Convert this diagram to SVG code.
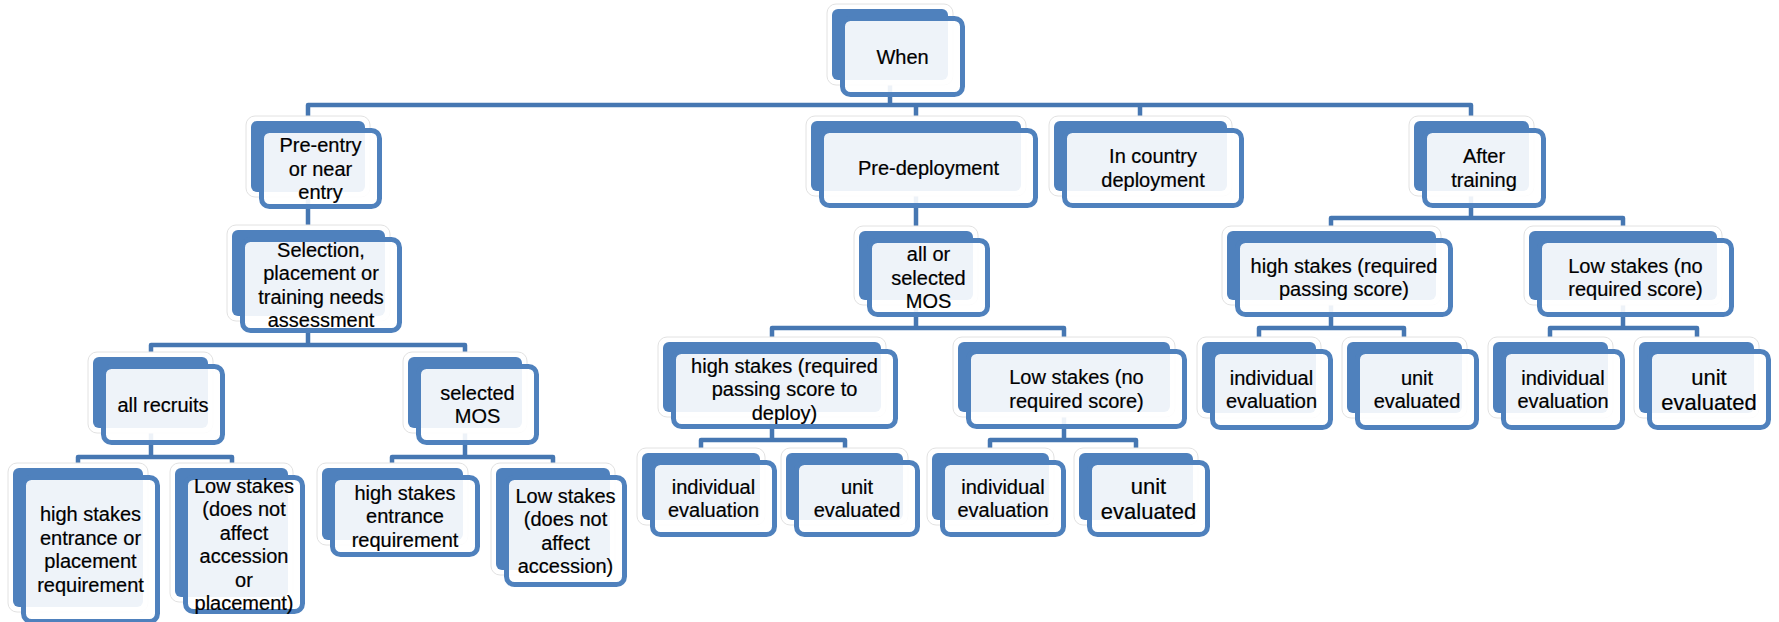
<svg xmlns="http://www.w3.org/2000/svg" width="1779" height="622" viewBox="0 0 1779 622">
<style>
.halo{fill:#ffffff;stroke:#e2e2e2;stroke-width:1}
.back{fill:#4F81BD}
.front{fill:#ffffff;fill-opacity:0.9;stroke:#4F81BD;stroke-width:5}
.conn{fill:none;stroke:#4677B2;stroke-width:4.5;stroke-linejoin:round}
.t{font-family:"Liberation Sans",Arial,sans-serif;font-size:20px;fill:#000;text-anchor:middle;stroke:#000;stroke-width:0.2}
.big{font-size:22px}
</style>
<rect width="1779" height="622" fill="#ffffff"/>
<g id="connectors" class="conn">
<path d="M890 80V105M308 121V105H1471V121M916 105V121M1140 105V121"/>
<path d="M308 192V230"/>
<path d="M916 191V231"/>
<path d="M1471 191V218M1331 231V218H1623V231"/>
<path d="M308 316V345M151 357V345H465V357"/>
<path d="M151 428V457M78 468V457H232V468"/>
<path d="M465 428V457M392 468V457H553V468"/>
<path d="M916 300V328M772 342V328H1064V342"/>
<path d="M772 412V440M701 453V440H845V453"/>
<path d="M1064 412V440M990 453V440H1136V453"/>
<path d="M1331 300V328M1259 342V328H1404V342"/>
<path d="M1623 300V328M1550 342V328H1697V342"/>
</g>
<g id="n-when"><rect class="halo" x="827" y="4" width="126" height="81" rx="9"/><rect class="back" x="832" y="9" width="116" height="71" rx="6"/><rect class="front" x="842.5" y="18.5" width="120" height="76" rx="8"/><text class="t" x="902.5" y="63.5">When</text></g>
<g id="n-preentry"><rect class="halo" x="246" y="116" width="124" height="81" rx="9"/><rect class="back" x="251" y="121" width="114" height="71" rx="6"/><rect class="front" x="261.5" y="130.5" width="118" height="76" rx="8"/><text class="t" y="152"><tspan x="320.5">Pre-entry</tspan><tspan x="320.5" dy="23.5">or near</tspan><tspan x="320.5" dy="23.5">entry</tspan></text></g>
<g id="n-predeploy"><rect class="halo" x="806" y="116" width="220" height="80" rx="9"/><rect class="back" x="811" y="121" width="210" height="70" rx="6"/><rect class="front" x="821.5" y="130.5" width="214" height="75" rx="8"/><text class="t" x="928.5" y="175">Pre-deployment</text></g>
<g id="n-incountry"><rect class="halo" x="1049" y="116" width="183" height="80" rx="9"/><rect class="back" x="1054" y="121" width="173" height="70" rx="6"/><rect class="front" x="1064.5" y="130.5" width="177" height="75" rx="8"/><text class="t" y="163.25"><tspan x="1153">In country</tspan><tspan x="1153" dy="23.5">deployment</tspan></text></g>
<g id="n-aftertraining"><rect class="halo" x="1409" y="116" width="125" height="80" rx="9"/><rect class="back" x="1414" y="121" width="115" height="70" rx="6"/><rect class="front" x="1424.5" y="130.5" width="119" height="75" rx="8"/><text class="t" y="163.25"><tspan x="1484">After</tspan><tspan x="1484" dy="23.5">training</tspan></text></g>
<g id="n-selection"><rect class="halo" x="227" y="225" width="163" height="96" rx="9"/><rect class="back" x="232" y="230" width="153" height="86" rx="6"/><rect class="front" x="242.5" y="239.5" width="157" height="91" rx="8"/><text class="t" y="256.75"><tspan x="321">Selection,</tspan><tspan x="321" dy="23.5">placement or</tspan><tspan x="321" dy="23.5">training needs</tspan><tspan x="321" dy="23.5">assessment</tspan></text></g>
<g id="n-allselmos"><rect class="halo" x="854" y="226" width="124" height="79" rx="9"/><rect class="back" x="859" y="231" width="114" height="69" rx="6"/><rect class="front" x="869.5" y="240.5" width="118" height="74" rx="8"/><text class="t" y="261"><tspan x="928.5">all or</tspan><tspan x="928.5" dy="23.5">selected</tspan><tspan x="928.5" dy="23.5">MOS</tspan></text></g>
<g id="n-athigh"><rect class="halo" x="1222" y="226" width="219" height="79" rx="9"/><rect class="back" x="1227" y="231" width="209" height="69" rx="6"/><rect class="front" x="1237.5" y="240.5" width="213" height="74" rx="8"/><text class="t" y="272.75"><tspan x="1344">high stakes (required</tspan><tspan x="1344" dy="23.5">passing score)</tspan></text></g>
<g id="n-atlow"><rect class="halo" x="1524" y="226" width="198" height="79" rx="9"/><rect class="back" x="1529" y="231" width="188" height="69" rx="6"/><rect class="front" x="1539.5" y="240.5" width="192" height="74" rx="8"/><text class="t" y="272.75"><tspan x="1635.5">Low stakes (no</tspan><tspan x="1635.5" dy="23.5">required score)</tspan></text></g>
<g id="n-allrecruits"><rect class="halo" x="88" y="352" width="125" height="81" rx="9"/><rect class="back" x="93" y="357" width="115" height="71" rx="6"/><rect class="front" x="103.5" y="366.5" width="119" height="76" rx="8"/><text class="t" x="163" y="411.5">all recruits</text></g>
<g id="n-selmos"><rect class="halo" x="403" y="352" width="124" height="81" rx="9"/><rect class="back" x="408" y="357" width="114" height="71" rx="6"/><rect class="front" x="418.5" y="366.5" width="118" height="76" rx="8"/><text class="t" y="399.75"><tspan x="477.5">selected</tspan><tspan x="477.5" dy="23.5">MOS</tspan></text></g>
<g id="n-pdhigh"><rect class="halo" x="658" y="337" width="228" height="80" rx="9"/><rect class="back" x="663" y="342" width="218" height="70" rx="6"/><rect class="front" x="673.5" y="351.5" width="222" height="75" rx="8"/><text class="t" y="372.5"><tspan x="784.5">high stakes (required</tspan><tspan x="784.5" dy="23.5">passing score to</tspan><tspan x="784.5" dy="23.5">deploy)</tspan></text></g>
<g id="n-pdlow"><rect class="halo" x="953" y="337" width="222" height="80" rx="9"/><rect class="back" x="958" y="342" width="212" height="70" rx="6"/><rect class="front" x="968.5" y="351.5" width="216" height="75" rx="8"/><text class="t" y="384.25"><tspan x="1076.5">Low stakes (no</tspan><tspan x="1076.5" dy="23.5">required score)</tspan></text></g>
<g id="n-athighind"><rect class="halo" x="1197" y="337" width="124" height="81" rx="9"/><rect class="back" x="1202" y="342" width="114" height="71" rx="6"/><rect class="front" x="1212.5" y="351.5" width="118" height="76" rx="8"/><text class="t" y="384.75"><tspan x="1271.5">individual</tspan><tspan x="1271.5" dy="23.5">evaluation</tspan></text></g>
<g id="n-athighunit"><rect class="halo" x="1342" y="337" width="125" height="81" rx="9"/><rect class="back" x="1347" y="342" width="115" height="71" rx="6"/><rect class="front" x="1357.5" y="351.5" width="119" height="76" rx="8"/><text class="t" y="384.75"><tspan x="1417">unit</tspan><tspan x="1417" dy="23.5">evaluated</tspan></text></g>
<g id="n-atlowind"><rect class="halo" x="1488" y="337" width="125" height="81" rx="9"/><rect class="back" x="1493" y="342" width="115" height="71" rx="6"/><rect class="front" x="1503.5" y="351.5" width="119" height="76" rx="8"/><text class="t" y="384.75"><tspan x="1563">individual</tspan><tspan x="1563" dy="23.5">evaluation</tspan></text></g>
<g id="n-atlowunit"><rect class="halo" x="1634" y="337" width="125" height="81" rx="9"/><rect class="back" x="1639" y="342" width="115" height="71" rx="6"/><rect class="front" x="1649.5" y="351.5" width="119" height="76" rx="8"/><text class="t big" y="384.5"><tspan x="1709">unit</tspan><tspan x="1709" dy="25">evaluated</tspan></text></g>
<g id="n-arhigh"><rect class="halo" x="8" y="463" width="140" height="149" rx="9"/><rect class="back" x="13" y="468" width="130" height="139" rx="6"/><rect class="front" x="23.5" y="477.5" width="134" height="144" rx="8"/><text class="t" y="521.25"><tspan x="90.5">high stakes</tspan><tspan x="90.5" dy="23.5">entrance or</tspan><tspan x="90.5" dy="23.5">placement</tspan><tspan x="90.5" dy="23.5">requirement</tspan></text></g>
<g id="n-arlow"><rect class="halo" x="170" y="463" width="123" height="139" rx="9"/><rect class="back" x="175" y="468" width="113" height="129" rx="6"/><rect class="front" x="185.5" y="477.5" width="117" height="134" rx="8"/><text class="t" y="492.75"><tspan x="244">Low stakes</tspan><tspan x="244" dy="23.5">(does not</tspan><tspan x="244" dy="23.5">affect</tspan><tspan x="244" dy="23.5">accession</tspan><tspan x="244" dy="23.5">or</tspan><tspan x="244" dy="23.5">placement)</tspan></text></g>
<g id="n-smhigh"><rect class="halo" x="317" y="463" width="151" height="82" rx="9"/><rect class="back" x="322" y="468" width="141" height="72" rx="6"/><rect class="front" x="332.5" y="477.5" width="145" height="77" rx="8"/><text class="t" y="499.5"><tspan x="405">high stakes</tspan><tspan x="405" dy="23.5">entrance</tspan><tspan x="405" dy="23.5">requirement</tspan></text></g>
<g id="n-smlow"><rect class="halo" x="491" y="463" width="124" height="112" rx="9"/><rect class="back" x="496" y="468" width="114" height="102" rx="6"/><rect class="front" x="506.5" y="477.5" width="118" height="107" rx="8"/><text class="t" y="502.75"><tspan x="565.5">Low stakes</tspan><tspan x="565.5" dy="23.5">(does not</tspan><tspan x="565.5" dy="23.5">affect</tspan><tspan x="565.5" dy="23.5">accession)</tspan></text></g>
<g id="n-pdhighind"><rect class="halo" x="637" y="448" width="128" height="77" rx="9"/><rect class="back" x="642" y="453" width="118" height="67" rx="6"/><rect class="front" x="652.5" y="462.5" width="122" height="72" rx="8"/><text class="t" y="493.75"><tspan x="713.5">individual</tspan><tspan x="713.5" dy="23.5">evaluation</tspan></text></g>
<g id="n-pdhighunit"><rect class="halo" x="781" y="448" width="127" height="77" rx="9"/><rect class="back" x="786" y="453" width="117" height="67" rx="6"/><rect class="front" x="796.5" y="462.5" width="121" height="72" rx="8"/><text class="t" y="493.75"><tspan x="857">unit</tspan><tspan x="857" dy="23.5">evaluated</tspan></text></g>
<g id="n-pdlowind"><rect class="halo" x="927" y="448" width="127" height="77" rx="9"/><rect class="back" x="932" y="453" width="117" height="67" rx="6"/><rect class="front" x="942.5" y="462.5" width="121" height="72" rx="8"/><text class="t" y="493.75"><tspan x="1003">individual</tspan><tspan x="1003" dy="23.5">evaluation</tspan></text></g>
<g id="n-pdlowunit"><rect class="halo" x="1074" y="448" width="124" height="77" rx="9"/><rect class="back" x="1079" y="453" width="114" height="67" rx="6"/><rect class="front" x="1089.5" y="462.5" width="118" height="72" rx="8"/><text class="t big" y="493.5"><tspan x="1148.5">unit</tspan><tspan x="1148.5" dy="25">evaluated</tspan></text></g>
</svg>
